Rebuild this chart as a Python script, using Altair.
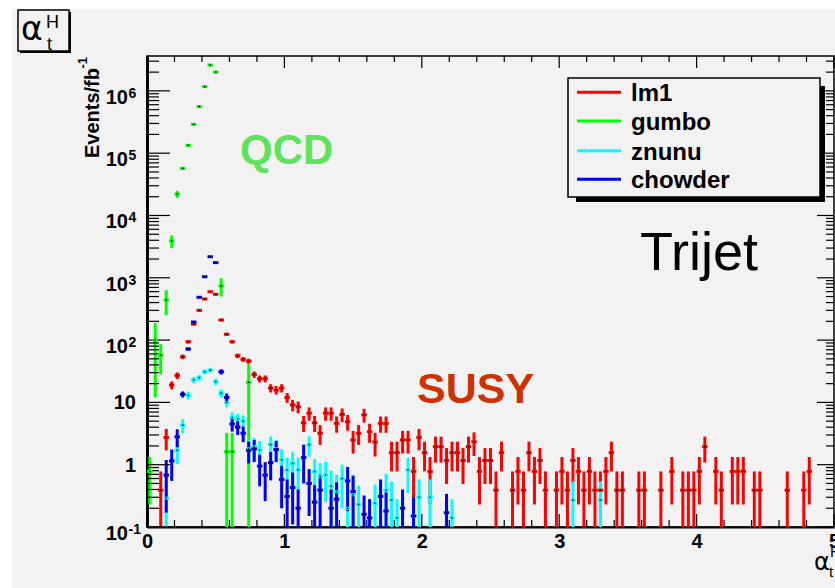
import altair as alt
import pandas as pd

FONT = "Liberation Sans"
BIN_W = 0.04
X_MAX = 5.0
Y_MIN, Y_MAX = 0.1, 3.63e6
W, H = 687, 471

series_names = ["lm1", "gumbo", "znunu", "chowder"]
series_colors = ["#ff0000", "#00ff00", "#00ffff", "#0000ff"]

# bin index k covers [0.04k, 0.04k+0.04]
lm1_bins = [2, 3, 4, 5, 6, 7, 8, 9, 10, 11, 12, 13, 14, 15, 16, 17, 18, 19, 20, 21, 22, 23, 24, 25, 26, 27, 28, 29, 30, 31,
            32, 33, 34, 35, 36, 37, 38, 39, 40, 41, 42, 43, 44, 45, 46, 47, 48, 49, 50, 51, 52, 53, 54, 55, 56, 57, 58, 59,
            60, 61, 62, 63, 64,
            66, 67, 68, 69, 70, 71, 72,
            74, 75, 76, 77, 78, 79, 80, 81, 82, 83, 84, 85, 86,
            89, 90, 93, 95,
            97, 98, 99, 100, 101,
            103, 104,
            106, 107, 108,
            110, 111,
            116, 119, 120]
lm1_vals = [0.39, 2.73, 19, 27, 54, 94, 181, 300, 457, 598, 543, 210, 124, 94, 56, 49, 46, 28, 24, 24, 17, 15.8, 17, 12,
            9.1, 8.5, 4.7, 6.7, 4.7, 3.2, 6.7, 6.7, 4.6, 6.4, 4.9, 2.5, 3.2, 6.3, 3.4, 2.3, 4.6, 4.6, 1.56, 1.56, 2.5, 2.5,
            0.78, 2.73, 1.56, 0.78, 1.95, 1.95, 1.17, 1.56, 1.56, 1.17, 1.95, 2.34, 0.78, 1.17, 1.17, 0.39, 1.56,
            0.39, 0.78, 0.39, 1.56, 0.78, 1.17, 0.39,
            0.39, 0.78, 0.39, 1.17, 0.78, 0.39, 0.78, 0.39, 0.39, 0.78, 1.56, 0.39, 0.39,
            0.39, 0.39, 0.39, 0.78,
            0.39, 0.39, 0.39, 0.78, 1.95,
            0.78, 0.39,
            0.78, 0.78, 0.78,
            0.39, 0.39,
            0.39, 0.39, 0.78]
lm1_errs = [0.39, 1.03, 2.72, 3.24, 4.59, 6.05, 8.4, 10.8, 13.35, 15.27, 14.55, 9.05, 6.95, 6.05, 4.67, 4.37, 4.24, 3.3,
            3.06, 3.06, 2.57, 2.48, 2.57, 2.16, 1.88, 1.82, 1.35, 1.62, 1.35, 1.12, 1.62, 1.62, 1.34, 1.58, 1.38, 0.99,
            1.12, 1.57, 1.15, 0.95, 1.34, 1.34, 0.78, 0.78, 0.99, 0.99, 0.55, 1.03, 0.78, 0.55, 0.87, 0.87, 0.68, 0.78,
            0.78, 0.68, 0.87, 0.96, 0.55, 0.68, 0.68, 0.39, 0.78,
            0.39, 0.55, 0.39, 0.78, 0.55, 0.68, 0.39,
            0.39, 0.55, 0.39, 0.68, 0.55, 0.39, 0.55, 0.39, 0.39, 0.55, 0.78, 0.39, 0.39,
            0.39, 0.39, 0.39, 0.55,
            0.39, 0.39, 0.39, 0.55, 0.87,
            0.55, 0.39,
            0.55, 0.55, 0.55,
            0.39, 0.39,
            0.39, 0.39, 0.55]

gumbo_bins = [0, 1, 2, 3, 4, 5, 6, 7, 8, 9, 10, 11, 12, 13, 14, 15, 18]
gumbo_vals = [0.78, 100, 57, 440, 3900, 22000, 57000, 134000, 290000, 560000, 1170000, 2600000, 2000000, 740, 1.62,
              1.62, 21]
gumbo_errs = [0.55, 88, 29, 190, 900, 2800, 3500, 6000, 9000, 12000, 17000, 25000, 22000, 240, 1.62, 1.62, 21]

znunu_bins = [3, 5, 6, 7, 8, 9, 10, 11, 12, 13, 14, 15, 16, 17, 18, 19, 20, 22, 23, 24, 25, 26, 27, 29, 30, 31, 32, 33,
              34, 35, 36, 37, 38, 41, 43, 44, 45, 47, 48, 49, 51, 55, 77, 82]
znunu_vals = [0.29, 1.7, 4.3, 13, 23, 25, 31, 33, 21.5, 14, 10, 5.7, 5.4, 5.0, 1.8, 1.95, 1.72, 2.1, 1.8, 1.2, 0.82,
              1.05, 0.82, 2.1, 0.78, 0.64, 0.68, 0.45, 0.37, 0.6, 0.2, 0.33, 0.23, 0.24, 0.39, 0.27, 0.14, 0.82, 0.15,
              0.3, 0.3, 0.14, 0.27, 0.27]
znunu_errs = [0.28, 0.68, 1.08, 1.87, 2.5, 2.6, 2.9, 3.0, 2.4, 1.94, 1.64, 1.24, 1.2, 1.16, 0.7, 0.73, 0.68, 0.75, 0.7,
              0.57, 0.47, 0.53, 0.47, 0.75, 0.46, 0.42, 0.43, 0.35, 0.32, 0.4, 0.2, 0.3, 0.23, 0.24, 0.32, 0.27, 0.14,
              0.47, 0.15, 0.28, 0.28, 0.14, 0.27, 0.27]

chowder_bins = [3, 4, 5, 6, 7, 8, 9, 10, 11, 12, 13, 14, 15, 16, 17, 18, 19, 20, 21, 22, 23, 24, 25, 26, 27, 28, 29, 30,
                31, 33, 34, 36, 37, 39, 40, 42, 43, 46, 48, 54]
chowder_vals = [0.68, 1.15, 2.8, 13.5, 72, 195, 486, 1040, 2180, 1750, 31, 12, 4.5, 4.0, 3.2, 1.7, 1.8, 0.95, 0.68,
                1.08, 1.75, 0.58, 0.31, 0.43, 0.2, 1.3, 0.5, 0.25, 0.39, 0.2, 0.28, 0.55, 0.37, 0.16, 0.14, 0.31, 0.18,
                0.2, 0.15, 0.17]
chowder_errs = [0.51, 0.6, 0.9, 1.5, 4.5, 7.5, 12, 17, 25, 22, 3.0, 1.9, 1.1, 1.0, 0.9, 0.65, 0.7, 0.5, 0.42, 0.52,
                0.65, 0.38, 0.27, 0.32, 0.2, 0.8, 0.35, 0.22, 0.3, 0.2, 0.24, 0.37, 0.3, 0.16, 0.14, 0.27, 0.18, 0.2,
                0.15, 0.17]

x_major = [0, 1, 2, 3, 4, 5]
x_minor = [0.2, 0.4, 0.6, 0.8, 1.2, 1.4, 1.6, 1.8, 2.2, 2.4, 2.6, 2.8, 3.2, 3.4, 3.6, 3.8, 4.2, 4.4, 4.6, 4.8]
y_major = [0.1, 1, 10, 100, 1e3, 1e4, 1e5, 1e6]
y_exp_vals = [0.1, 100, 1e3, 1e4, 1e5, 1e6]
y_exp_text = ["-1", "2", "3", "4", "5", "6"]
y_plain_vals = [1, 10]
y_plain_text = ["1", "10"]
y_minor = [m * d for d in [0.1, 1, 10, 100, 1e3, 1e4, 1e5, 1e6] for m in range(2, 10) if m * d < Y_MAX]

all_bins = [lm1_bins, gumbo_bins, znunu_bins, chowder_bins]
all_vals = [lm1_vals, gumbo_vals, znunu_vals, chowder_vals]
all_errs = [lm1_errs, gumbo_errs, znunu_errs, chowder_errs]

records = []
for o, name in enumerate(series_names):
    for k, v, e in zip(all_bins[o], all_vals[o], all_errs[o]):
        records.append({
            "series": name, "ord": o,
            "x": BIN_W * (k + 0.5), "xlo": BIN_W * k, "xhi": BIN_W * (k + 1),
            "v": v, "lo": max(v - e, 0.01), "hi": v + e,
        })
df = pd.DataFrame(records)

xs = alt.Scale(domain=[0, X_MAX], nice=False, zero=False)
ys = alt.Scale(type="log", domain=[Y_MIN, Y_MAX], nice=False)
cs = alt.Scale(domain=series_names, range=series_colors)

x_axis = alt.Axis(values=x_major, format="d", title=None, grid=False, ticks=False, tickSize=0,
                  labelFontSize=20, labelFont=FONT, labelFontWeight="bold", labelColor="black",
                  labelPadding=20, labelBaseline="alphabetic", labelFlush=False, labelOverlap=False,
                  domainColor="black", domainWidth=2)
y_axis = alt.Axis(labels=False, ticks=False, grid=False, title=None, domainColor="black", domainWidth=3)

one = pd.DataFrame({"a": [0]})


def rect(x1, x2, y1, y2, **kw):
    return alt.Chart(one).mark_rect(**kw).encode(
        x=alt.value(x1), x2=alt.value(x2), y=alt.value(y1), y2=alt.value(y2))


def txt(x, y, s, font=FONT, **kw):
    return alt.Chart(one).mark_text(font=font, align="left", baseline="alphabetic", **kw).encode(
        x=alt.value(x), y=alt.value(y), text=alt.value(s))


layers = []
# white page margins (left / top)
layers.append(rect(-147, -135, -56, H + 61, color="white"))
layers.append(rect(-147, W + 1, -56, -47, color="white"))

# data: vertical error bars first (defines the axes)
vbars = alt.Chart(df).mark_rule(strokeWidth=3, clip=True, strokeCap="butt").encode(
    x=alt.X("x:Q", scale=xs, axis=x_axis),
    y=alt.Y("lo:Q", scale=ys, axis=y_axis),
    y2="hi:Q",
    color=alt.Color("series:N", scale=cs, legend=None),
    order="ord:Q",
)
hbars = alt.Chart(df).mark_rule(strokeWidth=3, clip=True, strokeCap="butt").encode(
    x=alt.X("xlo:Q", scale=xs), x2="xhi:Q",
    y=alt.Y("v:Q", scale=ys),
    color=alt.Color("series:N", scale=cs, legend=None),
    order="ord:Q",
)
dots = alt.Chart(df).mark_square(size=2.5, color="black", opacity=0.85, clip=True).encode(
    x=alt.X("x:Q", scale=xs), y=alt.Y("v:Q", scale=ys))

# inward ticks
ymaj = pd.DataFrame({"v": y_major})
ymin = pd.DataFrame({"v": y_minor})
xmaj = pd.DataFrame({"v": x_major})
xmin = pd.DataFrame({"v": x_minor})
tk = dict(color="black", strokeWidth=1.2)
ticks = [
    alt.Chart(ymaj).mark_rule(**tk).encode(y=alt.Y("v:Q", scale=ys), x=alt.value(0), x2=alt.value(23)),
    alt.Chart(ymin).mark_rule(**tk).encode(y=alt.Y("v:Q", scale=ys), x=alt.value(0), x2=alt.value(12)),
    alt.Chart(ymaj).mark_rule(**tk).encode(y=alt.Y("v:Q", scale=ys), x=alt.value(W), x2=alt.value(W - 17)),
    alt.Chart(ymin).mark_rule(**tk).encode(y=alt.Y("v:Q", scale=ys), x=alt.value(W), x2=alt.value(W - 8)),
    alt.Chart(xmaj).mark_rule(**tk).encode(x=alt.X("v:Q", scale=xs), y=alt.value(H), y2=alt.value(H - 13)),
    alt.Chart(xmin).mark_rule(**tk).encode(x=alt.X("v:Q", scale=xs), y=alt.value(H), y2=alt.value(H - 7)),
    alt.Chart(xmaj).mark_rule(**tk).encode(x=alt.X("v:Q", scale=xs), y=alt.value(0), y2=alt.value(12)),
    alt.Chart(xmin).mark_rule(**tk).encode(x=alt.X("v:Q", scale=xs), y=alt.value(0), y2=alt.value(6)),
]
layers += [vbars] + ticks + [hbars, dots]

# y labels
lab = dict(font=FONT, fontWeight="bold", color="black", baseline="alphabetic")
yexp = pd.DataFrame({"v": y_exp_vals, "base": ["10"] * len(y_exp_vals), "exp": y_exp_text})
yplain = pd.DataFrame({"v": y_plain_vals, "t": y_plain_text})
layers += [
    alt.Chart(yexp).mark_text(align="right", dy=13, fontSize=20, **lab).encode(
        y=alt.Y("v:Q", scale=ys), x=alt.value(-19), text="base:N"),
    alt.Chart(yexp).mark_text(align="left", dy=7, fontSize=14, **lab).encode(
        y=alt.Y("v:Q", scale=ys), x=alt.value(-18.5), text="exp:N"),
    alt.Chart(yplain).mark_text(align="right", dy=7, fontSize=20, **lab).encode(
        y=alt.Y("v:Q", scale=ys), x=alt.value(-11), text="t:N"),
]

# y title (rotated)
layers += [
    alt.Chart(one).mark_text(font=FONT, fontWeight="bold", fontSize=20, angle=270, align="right",
                             baseline="alphabetic", color="black").encode(
        x=alt.value(-48), y=alt.value(12), text=alt.value("Events/fb")),
    alt.Chart(one).mark_text(font=FONT, fontWeight="bold", fontSize=13, angle=270, align="right",
                             baseline="alphabetic", color="black").encode(
        x=alt.value(-60), y=alt.value(1), text=alt.value("-1")),
]

# x title at bottom right
layers += [
    txt(667, H + 43, "α", font="DejaVu Sans", fontSize=24, color="black"),
    txt(683, H + 30, "H", fontSize=15, color="black"),
    txt(682, H + 50, "t", fontSize=15, color="black"),
]

# annotations
layers += [
    txt(93, 108, "QCD", fontSize=42, fontWeight="bold", color="#5fe35a"),
    txt(270, 347, "SUSY", fontSize=43, fontWeight="bold", color="#cc3300"),
    txt(493, 214, "Trijet", fontSize=54, color="black"),
]

# legend
layers += [
    rect(429, 678, 30, 146, color="black"),
    rect(421, 673, 22, 141, fill="#f2f2f2", stroke="black", strokeWidth=1.5),
]
leg_y = [36.3, 65, 94.7, 123.3]
for name, c, yy in zip(series_names, series_colors, leg_y):
    layers.append(alt.Chart(one).mark_rule(color=c, strokeWidth=3).encode(
        x=alt.value(430), x2=alt.value(474), y=alt.value(yy)))
    layers.append(txt(484, yy + 9, name, fontSize=24, fontWeight="bold", color="black"))

# title box
layers += [
    rect(-127, -76, -44, -3, color="black"),
    rect(-129, -78, -46, -5, fill="#f2f2f2", stroke="black", strokeWidth=1.5),
    txt(-126, -16, "α", font="DejaVu Sans", fontSize=33, color="black"),
    txt(-101, -28, "H", fontSize=18, color="black"),
    txt(-100, -6, "t", fontSize=18, color="black"),
]

chart = alt.layer(*layers).properties(
    width=W, height=H,
    padding={"left": 147, "top": 56, "right": 1, "bottom": 61},
    autosize=alt.AutoSizeParams(type="none"),
    background="#f2f2f2",
).configure_view(stroke="black", strokeWidth=1.5)

chart.save("out.html", embed_options={"renderer": "svg", "actions": False})
